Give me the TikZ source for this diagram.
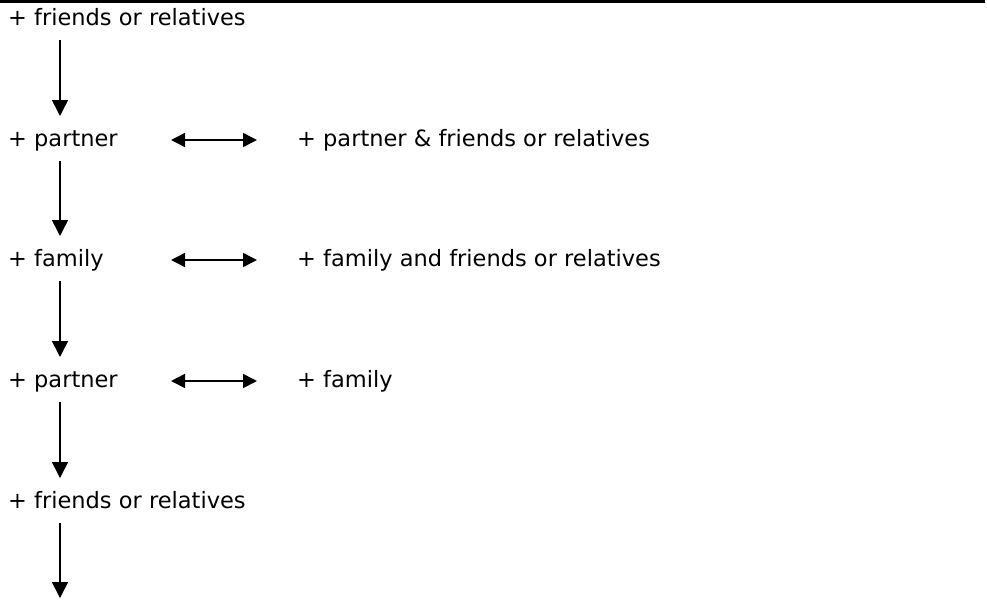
\documentclass[tikz,border=0pt]{standalone}
\usepackage{fontspec}
\setmainfont{DejaVu Sans}
\usetikzlibrary{arrows.meta,calc}
\begin{document}
\begin{tikzpicture}[x=1pt,y=1pt,
  lbl/.style={anchor=base west,inner sep=0pt,font=\fontsize{22.5}{25}\selectfont},
  down/.style={line width=1.6pt,-{Triangle[length=16pt,width=16pt]}},
  both/.style={line width=1.6pt,{Triangle[length=14pt,width=14pt]}-{Triangle[length=14pt,width=14pt]}}]
\useasboundingbox (0,0) rectangle (987,-603);
% rule along the top edge
\fill (0,0) rectangle (985,-2.5);
% left column
\node[lbl] (a0) at (8,-25) {+ friends or relatives};
\node[lbl] (a1) at (8,-146) {+ partner};
\node[lbl] (a2) at (8,-266) {+ family};
\node[lbl] (a3) at (8,-387) {+ partner};
\node[lbl] (a4) at (8,-508) {+ friends or relatives};
% right column
\node[lbl] (b1) at (297,-146) {+ partner \& friends or relatives};
\node[lbl] (b2) at (297,-266) {+ family and friends or relatives};
\node[lbl] (b3) at (297,-387) {+ family};
\coordinate (end) at (60,-598);
% downward chain
\draw[down] ($(a0.base west)+(52,-15)$) -- ($(a1.base west)+(52,30)$);
\draw[down] ($(a1.base west)+(52,-15)$) -- ($(a2.base west)+(52,30)$);
\draw[down] ($(a2.base west)+(52,-15)$) -- ($(a3.base west)+(52,30)$);
\draw[down] ($(a3.base west)+(52,-15)$) -- ($(a4.base west)+(52,30)$);
\draw[down] ($(a4.base west)+(52,-15)$) -- (end);
% two-way links
\draw[both] ($(a1.base west)+(163,6)$) -- ($(b1.base west)+(-40,6)$);
\draw[both] ($(a2.base west)+(163,6)$) -- ($(b2.base west)+(-40,6)$);
\draw[both] ($(a3.base west)+(163,6)$) -- ($(b3.base west)+(-40,6)$);
\end{tikzpicture}
\end{document}
